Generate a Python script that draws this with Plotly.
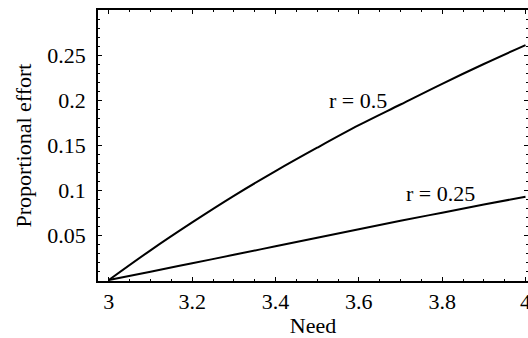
import plotly.graph_objects as go

need = [3.0, 3.1, 3.2, 3.3, 3.4, 3.5, 3.6, 3.7, 3.8, 3.9, 4.0]
effort_r050 = [0.0, 0.033, 0.064, 0.0935, 0.121, 0.147, 0.172, 0.195, 0.218, 0.240, 0.261]
effort_r025 = [0.0, 0.0092, 0.0186, 0.028, 0.0375, 0.047, 0.0565, 0.0658, 0.0748, 0.0838, 0.0926]

x_ticks = [3, 3.2, 3.4, 3.6, 3.8, 4]
x_tick_text = ["3", "3.2", "3.4", "3.6", "3.8", "4"]
y_ticks = [0.05, 0.1, 0.15, 0.2, 0.25]
y_tick_text = ["0.05", "0.1", "0.15", "0.2", "0.25"]

labels = ["r = 0.5", "r = 0.25"]
label_x = [3.598, 3.796]
label_y = [0.200, 0.0956]

FONT = "Times New Roman, Liberation Serif, serif"

fig = go.Figure()
fig.add_trace(go.Scatter(x=need, y=effort_r050, mode="lines", line=dict(color="black", width=2, shape="spline"), showlegend=False, cliponaxis=False))
fig.add_trace(go.Scatter(x=need, y=effort_r025, mode="lines", line=dict(color="black", width=2, shape="spline"), showlegend=False, cliponaxis=False))

for t, lx, ly in zip(labels, label_x, label_y):
    fig.add_annotation(x=lx, y=ly, text=t, showarrow=False, font=dict(family=FONT, size=22, color="black"))

axis_common = dict(
    showgrid=False, zeroline=False, showline=True, linecolor="black", linewidth=1.5,
    mirror="allticks", ticks="inside", ticklen=4, tickcolor="black", tickwidth=1,
    tickfont=dict(family=FONT, size=22, color="black"), automargin=False,
    ticklabeloverflow="allow",
)

fig.update_xaxes(
    range=[2.974, 4.006], tickmode="array", tickvals=x_ticks, ticktext=x_tick_text,
    minor=dict(ticks="inside", ticklen=2, dtick=0.05, tick0=3, tickcolor="black"),
    title=dict(text="Need", font=dict(family=FONT, size=22, color="black"), standoff=4),
    **axis_common,
)
fig.update_yaxes(
    range=[-0.0011, 0.3], tickmode="array", tickvals=y_ticks, ticktext=y_tick_text,
    minor=dict(ticks="inside", ticklen=2, dtick=0.01, tick0=0, tickcolor="black"),
    title=dict(text="Proportional effort", font=dict(family=FONT, size=22, color="black"), standoff=10),
    ticklabelstandoff=6,
    **axis_common,
)

fig.update_layout(
    width=528, height=338,
    margin=dict(l=98, r=0, t=10, b=57),
    paper_bgcolor="white", plot_bgcolor="white",
)

fig.write_html("out.html", config={"displayModeBar": False})

with open("out.html", "r", encoding="utf-8") as f:
    html = f.read()
html = html.replace("<body>", '<body style="margin:0;padding:0;overflow:hidden">', 1)
with open("out.html", "w", encoding="utf-8") as f:
    f.write(html)
